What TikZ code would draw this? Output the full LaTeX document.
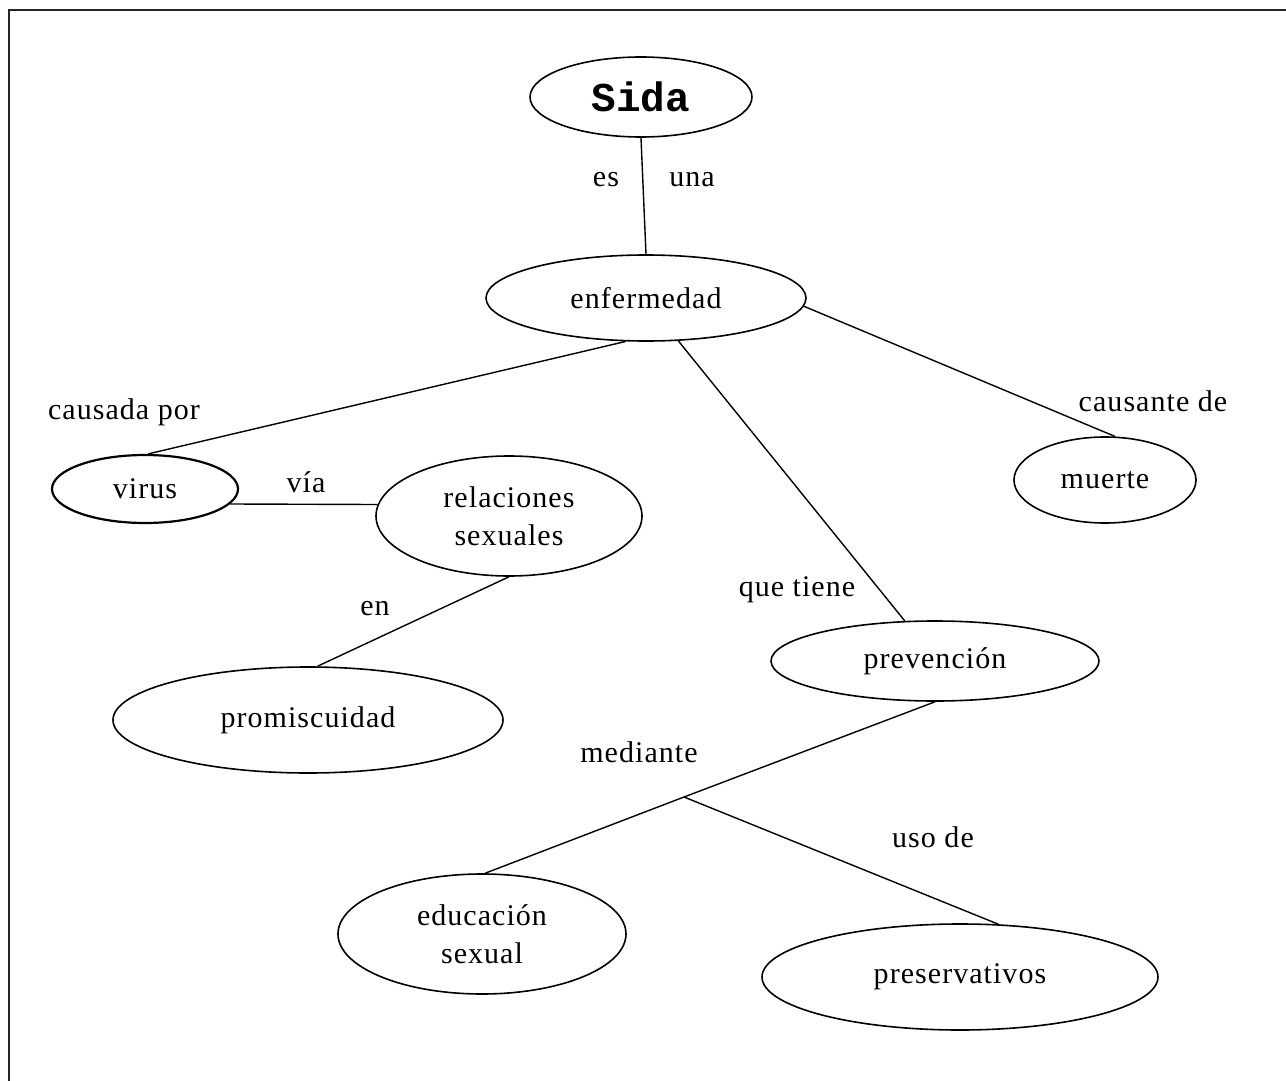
\documentclass[tikz,border=0pt]{standalone}
\usepackage{fontspec}
\setmainfont[LetterSpace=3.5]{Liberation Serif}
\newfontfamily\sidafont{Liberation Mono}
\usetikzlibrary{shapes.geometric}
\begin{document}
\begin{tikzpicture}[x=0.5pt,y=-0.5pt,
  concept/.style={ellipse, draw, line width=0.8pt, inner sep=0pt, align=center,
    font=\fontsize{15}{19}\selectfont},
  lbl/.style={inner sep=0pt, font=\fontsize{15}{19}\selectfont},
  link/.style={line width=0.7pt},
  frame/.style={line width=1.1pt, draw=black!85}]
\useasboundingbox (0,0) rectangle (1286,1081);
\draw[frame] (9,1081) -- (9,10) -- (1286,10);

\node[concept, minimum width=111pt, minimum height=40pt,
  font=\sidafont\bfseries\fontsize{20.5}{24}\selectfont] (sida) at (641,97) {Sida};
\node[concept, minimum width=160pt, minimum height=43pt] (enf) at (646,298) {enfermedad};
\node[concept, minimum width=93pt, minimum height=34pt, line width=1.1pt] (virus) at (145,489) {virus};
\node[concept, minimum width=133pt, minimum height=60pt] (rel) at (509,516) {relaciones\\sexuales};
\node[concept, minimum width=91pt, minimum height=43pt] (muerte) at (1105,480) {muerte};
\node[concept, minimum width=164pt, minimum height=40pt] (prev) at (935,661) {prevención};
\node[concept, minimum width=195pt, minimum height=53pt] (prom) at (308,720) {promiscuidad};
\node[concept, minimum width=144pt, minimum height=60pt] (edu) at (482,934) {educación\\sexual};
\node[concept, minimum width=198pt, minimum height=53pt] (pres) at (960,977) {preservativos};

\coordinate (br) at (684,797);

\draw[link] (sida.south) -- (enf.north);
\draw[link] (enf.245) -- (virus.85);
\draw[link] (enf.307) -- (prev.127);
\draw[link] (enf.357) -- (muerte.77);
\draw[link] (virus.350) -- (rel.175);
\draw[link] (rel.270) -- (prom.80);
\draw[link] (prev.270) -- (br) -- (edu.87);
\draw[link] (br) -- (pres.54);

\node[lbl] (l1) at (606,180) {es};
\node[lbl] (l2) at (692,180) {una};
\node[lbl] (l3) at (124,412) {causada por};
\node[lbl] (l4) at (306,482) {vía};
\node[lbl] (l5) at (375,609) {en};
\node[lbl] (l6) at (797,590) {que tiene};
\node[lbl] (l7) at (1153,401) {causante de};
\node[lbl] (l8) at (639,752) {mediante};
\node[lbl] (l9) at (933,837) {uso de};
\end{tikzpicture}
\end{document}
